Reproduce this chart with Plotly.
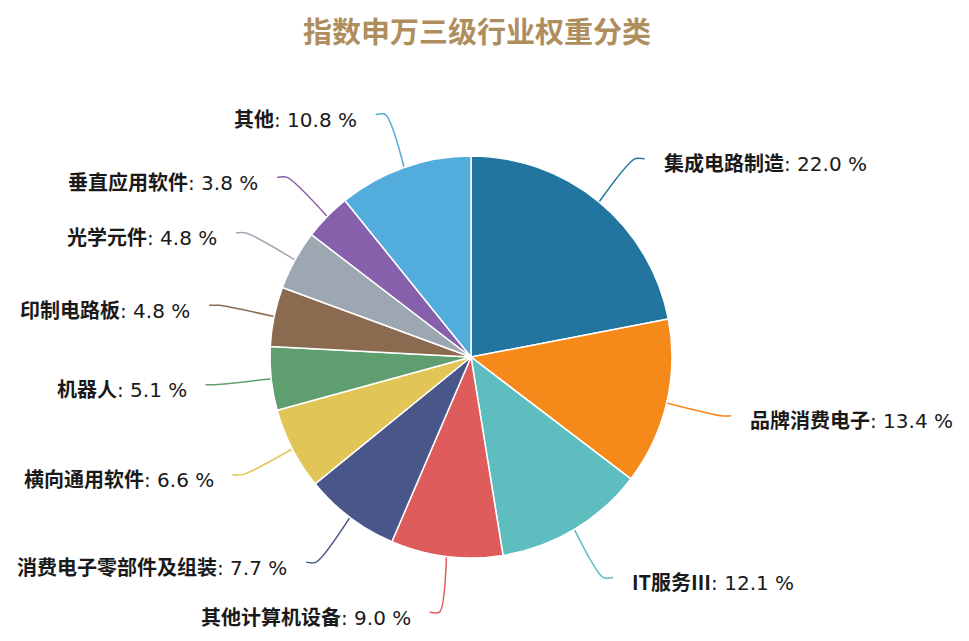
import numpy as np
import plotly.graph_objects as go

# data
labels = ["集成电路制造", "品牌消费电子", "IT服务Ⅲ", "其他计算机设备", "消费电子零部件及组装",
          "横向通用软件", "机器人", "印制电路板", "光学元件", "垂直应用软件", "其他"]
weights = [22.0, 13.4, 12.1, 9.0, 7.7, 6.6, 5.1, 4.8, 4.8, 3.8, 10.8]
colors = ["#21759F", "#F5891A", "#5EBEBF", "#DF5C5D", "#48568A", "#E2C557",
          "#5F9E6E", "#8B6B4F", "#9DA7B1", "#8660AA", "#52ADDC"]
title = "指数申万三级行业权重分类"

W, H = 969, 641
off = 8                          # page body margin in the html
cx, cy, r = 471 - off, 357 - off, 201   # pie centre / radius in pixels
len1, len2, gap = 56, 10, 17    # leader line lengths, text gap

fig = go.Figure()
fig.add_trace(go.Pie(
    labels=labels, values=weights, sort=False, direction="clockwise", rotation=0,
    marker=dict(colors=colors, line=dict(color="white", width=1.5)),
    textinfo="none", hoverinfo="label+percent", showlegend=False,
    domain=dict(x=[(cx - r) / W, (cx + r) / W], y=[1 - (cy + r) / H, 1 - (cy - r) / H]),
))

# leader lines and labels, computed from the slice mid angles
total = sum(weights)
start = 0.0
for name, v, c in zip(labels, weights, colors):
    mid = np.radians((start + v / 2) / total * 360)
    start += v
    dx, dy = np.sin(mid), -np.cos(mid)
    x0, y0 = cx + r * dx, cy + r * dy
    x1, y1 = cx + (r + len1) * dx, cy + (r + len1) * dy
    side = 1 if dx >= 0 else -1
    x2 = x1 + side * len2
    fig.add_trace(go.Scatter(
        x=[x0, x1, x2], y=[y0, y1, y1], mode="lines",
        line=dict(color=c, width=1.5, shape="spline", smoothing=0.8),
        hoverinfo="skip", showlegend=False, xaxis="x", yaxis="y",
    ))
    fig.add_annotation(
        x=x2 + side * gap, y=y1 + 4, xref="x", yref="y", showarrow=False,
        text=f"<b>{name}</b><span style='font-family:DejaVu Sans'>: {v:.1f} %</span>",
        xanchor="left" if side > 0 else "right", yanchor="middle",
        font=dict(size=20, color="#1a1a1a", family="Noto Sans CJK SC"),
    )

# title as an annotation so it sits inside the plot area
fig.add_annotation(
    x=477 - off, y=28 - off + 2, xref="x", yref="y", showarrow=False,
    text=f"<b>{title}</b>", xanchor="center", yanchor="middle",
    font=dict(size=29, color="#AF8E5E", family="Noto Sans CJK SC"),
)

fig.update_layout(
    width=W, height=H,
    margin=dict(l=0, r=0, t=0, b=0),
    paper_bgcolor="white", plot_bgcolor="rgba(0,0,0,0)",
    xaxis=dict(range=[0, W], visible=False, fixedrange=True),
    yaxis=dict(range=[H, 0], visible=False, fixedrange=True),
)

fig.write_html("out.html")
